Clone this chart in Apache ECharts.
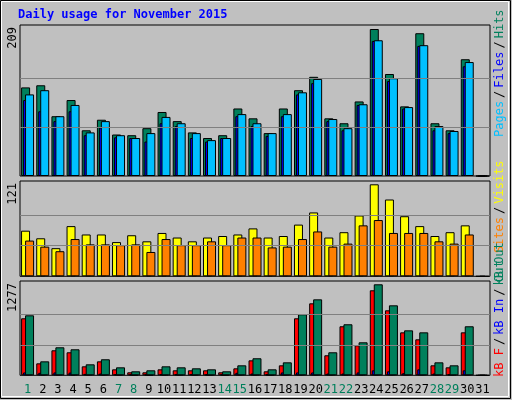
<!DOCTYPE html>
<html><head><meta charset="utf-8">
<script src="https://cdn.jsdelivr.net/npm/echarts@6/dist/echarts.min.js"></script>
<style>html,body{margin:0;padding:0;background:#c0c0c0}#c{width:512px;height:400px}</style>
</head><body><div id="c"></div>
<script>
const days = ['1','2','3','4','5','6','7','8','9','10','11','12','13','14','15','16','17','18','19','20','21','22','23','24','25','26','27','28','29','30','31'];
const weekend = ['1','7','8','14','15','21','22','28','29'];
const hits  = [126,129,85,108,65,80,59,58,68,91,78,62,54,58,96,82,61,96,122,141,82,75,106,209,145,99,203,75,65,166,0];
const pages = [108,92,78,92,58,69,55,54,49,75,71,54,49,54,85,71,57,85,116,132,78,65,101,192,135,96,185,65,61,156,0];
const files = [116,122,85,101,62,78,58,54,61,84,75,61,51,54,88,75,61,88,119,138,81,68,102,193,139,98,186,71,64,162,0];
const visits= [60,50,37,66,55,55,45,54,46,57,51,46,51,53,55,63,51,53,68,84,51,58,80,121,101,79,66,53,58,67,0];
const sites = [47,39,33,49,42,42,41,42,32,49,41,41,46,41,51,51,38,39,49,59,39,43,67,74,57,57,57,46,43,55,0];
const kbF   = [800,168,351,323,126,196,84,42,42,84,70,70,70,42,98,210,56,140,800,1010,281,688,421,1193,912,603,505,140,112,603,0];
const kbIn  = [40,35,40,38,20,25,15,10,10,15,15,15,12,10,35,25,12,40,40,40,25,25,40,70,56,30,84,25,15,70,0];
const kbOut = [842,196,393,365,154,225,112,56,70,126,112,98,84,56,140,239,84,182,856,1066,323,716,463,1277,982,631,603,182,140,688,0];
const maxTop=209, maxMid=121, maxBot=1277;

const bs = {borderColor:'#000',borderWidth:1};
const mono = 'DejaVu Sans Mono';
function grid(top,h){return {left:20,width:470,top:top,height:h,show:true,backgroundColor:'#c0c0c0',borderColor:'#000',borderWidth:1};}
function xa(i,show){return {type:'category',gridIndex:i,data:days,axisTick:{show:false},axisLine:{show:false},
  axisLabel:{show:show,margin:9,fontFamily:mono,fontSize:12,interval:0,
   color:function(v){return weekend.indexOf(v)>=0?'#00805c':'#000';}}};}
function ya(i,max){return {type:'value',gridIndex:i,min:0,max:max,show:false,splitLine:{show:false}};}
function ml(m){return {silent:true,symbol:'none',label:{show:false},lineStyle:{color:'#808080',type:'solid',width:1},
  data:[{yAxis:m/3},{yAxis:2*m/3}]};}
function bar(name,data,color,i,gap,w,extra){return Object.assign({type:'bar',name:name,data:data,xAxisIndex:i,yAxisIndex:i,
  barWidth:w||9,barGap:gap,itemStyle:Object.assign({color:color},bs),silent:true,animation:false},extra||{});}

const option = {
  animation:false,
  backgroundColor:'#c0c0c0',
  grid:[grid(25,151),grid(181,95.3),grid(281,94.3)],
  xAxis:[xa(0,false),xa(1,false),xa(2,true)],
  yAxis:[ya(0,maxTop*151/147),ya(1,maxMid*95.3/92),ya(2,maxBot*94.3/91)],
  series:[
    bar('Hits',hits,'#00805c',0,'-78%',9,{markLine:ml(maxTop),z:1}),
    bar('Pages',pages,'#0000ff',0,'-78%',9),
    bar('Files',files,'#00c0ff',0,'-78%',9),
    bar('Visits',visits,'#ffff00',1,'-55%',9,{markLine:ml(maxMid)}),
    bar('Sites',sites,'#ff8000',1,'-55%',9),
    bar('kB F',kbF,'#ff0000',2,'-78%',9,{markLine:ml(maxBot)}),
    bar('kB In',kbIn,'#0000ff',2,'-78%',9),
    bar('kB Out',kbOut,'#00805c',2,'-78%',9)
  ],
  graphic:[
    {type:'rect',shape:{x:0.5,y:0.5,width:510,height:398},style:{fill:'none',stroke:'#000',lineWidth:1},z:-1},
    {type:'rect',shape:{x:1.5,y:1.5,width:507,height:395},style:{fill:'none',stroke:'#fff',lineWidth:1},z:-1},
    {type:'text',left:18,top:9,style:{text:'Daily usage for November 2015',fill:'#0000ff',font:'bold 12px "DejaVu Sans Mono"'}},
    {type:'text',x:13,y:27,rotation:Math.PI/2,style:{text:'209',fill:'#000',font:'12px "DejaVu Sans Mono"',align:'right',verticalAlign:'middle'}},
    {type:'text',x:13,y:183,rotation:Math.PI/2,style:{text:'121',fill:'#000',font:'12px "DejaVu Sans Mono"',align:'right',verticalAlign:'middle'}},
    {type:'text',x:13,y:283,rotation:Math.PI/2,style:{text:'1277',fill:'#000',font:'12px "DejaVu Sans Mono"',align:'right',verticalAlign:'middle'}},
    {type:'text',x:500,y:137,rotation:Math.PI/2,style:{text:'{p|Pages}{k|/}{f|Files}{k|/}{h|Hits}',align:'left',verticalAlign:'middle',
      font:'12px "DejaVu Sans Mono"',rich:{p:{fill:'#00c0ff',font:'12px "DejaVu Sans Mono"'},k:{fill:'#000',font:'12px "DejaVu Sans Mono"',padding:[0,3]},f:{fill:'#0000ff',font:'12px "DejaVu Sans Mono"'},h:{fill:'#00805c',font:'12px "DejaVu Sans Mono"'}}}},
    {type:'text',x:500,y:282,rotation:Math.PI/2,style:{text:'{o|Out }{s|Sites}{k|/}{v|Visits}',align:'left',verticalAlign:'middle',
      font:'12px "DejaVu Sans Mono"',rich:{o:{fill:'#00805c',font:'12px "DejaVu Sans Mono"'},s:{fill:'#ff8000',font:'12px "DejaVu Sans Mono"'},k:{fill:'#000',font:'12px "DejaVu Sans Mono"',padding:[0,3]},v:{fill:'#ffff00',font:'12px "DejaVu Sans Mono"'}}}},
    {type:'text',x:500,y:377,rotation:Math.PI/2,style:{text:'{r|kB F}{k|/}{b|kB In}{k|/}{g|kB Out}',align:'left',verticalAlign:'middle',
      font:'12px "DejaVu Sans Mono"',rich:{r:{fill:'#ff0000',font:'12px "DejaVu Sans Mono"'},k:{fill:'#000',font:'12px "DejaVu Sans Mono"',padding:[0,3]},b:{fill:'#0000ff',font:'12px "DejaVu Sans Mono"'},g:{fill:'#00805c',font:'12px "DejaVu Sans Mono"'}}}}
  ]
};
echarts.init(document.getElementById('c')).setOption(option);
</script></body></html>
